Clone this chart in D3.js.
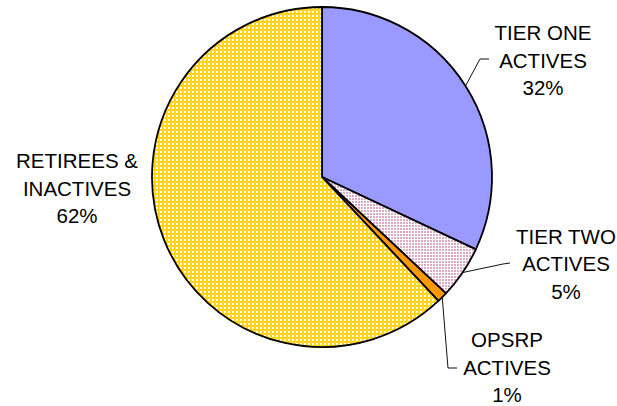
<!DOCTYPE html>
<html><head><meta charset="utf-8">
<script src="https://cdn.jsdelivr.net/npm/d3@7/dist/d3.min.js"></script>
<style>html,body{margin:0;padding:0;background:#fff}svg{display:block}</style>
</head><body>
<svg id="c" width="617" height="406"></svg>
<script>
// Data
const categories = ["TIER ONE ACTIVES", "TIER TWO ACTIVES", "OPSRP ACTIVES", "RETIREES & INACTIVES"];
const values = [32, 5, 1, 62];
const labelLines = [["TIER ONE", "ACTIVES", "32%"], ["TIER TWO", "ACTIVES", "5%"], ["OPSRP", "ACTIVES", "1%"], ["RETIREES &", "INACTIVES", "62%"]];

// Layout (positions / styles)
const W = 617, H = 406, cx = 322, cy = 177, R = 170;
const fills = ["#9999FF", "url(#pinkPat)", "#FF9900", "url(#yellowPat)"];
// label anchor: text center x, first baseline y; leader: elbow points (null = no leader)
const labelLayout = [
  {x: 543, y: 40, leader: [[480, 59], [489, 59]]},
  {x: 566, y: 243.5, leader: [[503, 264], [510, 263]]},
  {x: 507, y: 347, leader: [[448, 368], [457, 368]]},
  {x: 77, y: 168, leader: null}
];
const lineH = 27.5;

const svg = d3.select("#c");
const defs = svg.append("defs");
const yp = defs.append("pattern").attr("id", "yellowPat").attr("patternUnits", "userSpaceOnUse").attr("width", 4).attr("height", 4);
yp.append("rect").attr("width", 4).attr("height", 4).attr("fill", "#fff");
yp.append("rect").attr("x", 0).attr("y", 0).attr("width", 4).attr("height", 1).attr("fill", "#FFCC00");
yp.append("rect").attr("x", 0).attr("y", 0).attr("width", 1).attr("height", 4).attr("fill", "#FFCC00");
yp.append("rect").attr("x", 0).attr("y", 1).attr("width", 4).attr("height", 1).attr("fill", "#FFD53A");
yp.append("rect").attr("x", 1).attr("y", 0).attr("width", 1).attr("height", 4).attr("fill", "#FFD53A");
const pp = defs.append("pattern").attr("id", "pinkPat").attr("patternUnits", "userSpaceOnUse").attr("width", 3).attr("height", 3);
pp.append("rect").attr("width", 3).attr("height", 3).attr("fill", "#fff");
pp.append("rect").attr("x", 0).attr("y", 0).attr("width", 2).attr("height", 2).attr("fill", "#DDAAC4");

const pie = d3.pie().sort(null).value(d => d).startAngle(0).endAngle(2 * Math.PI);
const arcs = pie(values);
const arc = d3.arc().innerRadius(0).outerRadius(R);

const g = svg.append("g").attr("transform", `translate(${cx},${cy})`);
g.selectAll("path.slice").data(arcs).join("path")
  .attr("class", "slice")
  .attr("d", arc)
  .attr("fill", (d, i) => fills[i])
  .attr("stroke", "#000")
  .attr("stroke-width", 1.8)
  .attr("stroke-linejoin", "round");

// leaders
arcs.forEach((d, i) => {
  const L = labelLayout[i];
  if (!L.leader) return;
  const a = (d.startAngle + d.endAngle) / 2;
  const p0 = [cx + R * Math.sin(a), cy - R * Math.cos(a)];
  const pts = [p0, ...L.leader];
  svg.append("path").attr("d", d3.line()(pts)).attr("fill", "none").attr("stroke", "#111").attr("stroke-width", 1);
});

// labels
labelLines.forEach((lines, i) => {
  const L = labelLayout[i];
  const t = svg.append("text").attr("text-anchor", "middle")
    .attr("font-family", "Liberation Sans, Arial, sans-serif").attr("font-size", 20.5).attr("fill", "#000");
  lines.forEach((s, j) => t.append("tspan").attr("x", L.x).attr("y", L.y + j * lineH).text(s));
});
</script>
</body></html>
